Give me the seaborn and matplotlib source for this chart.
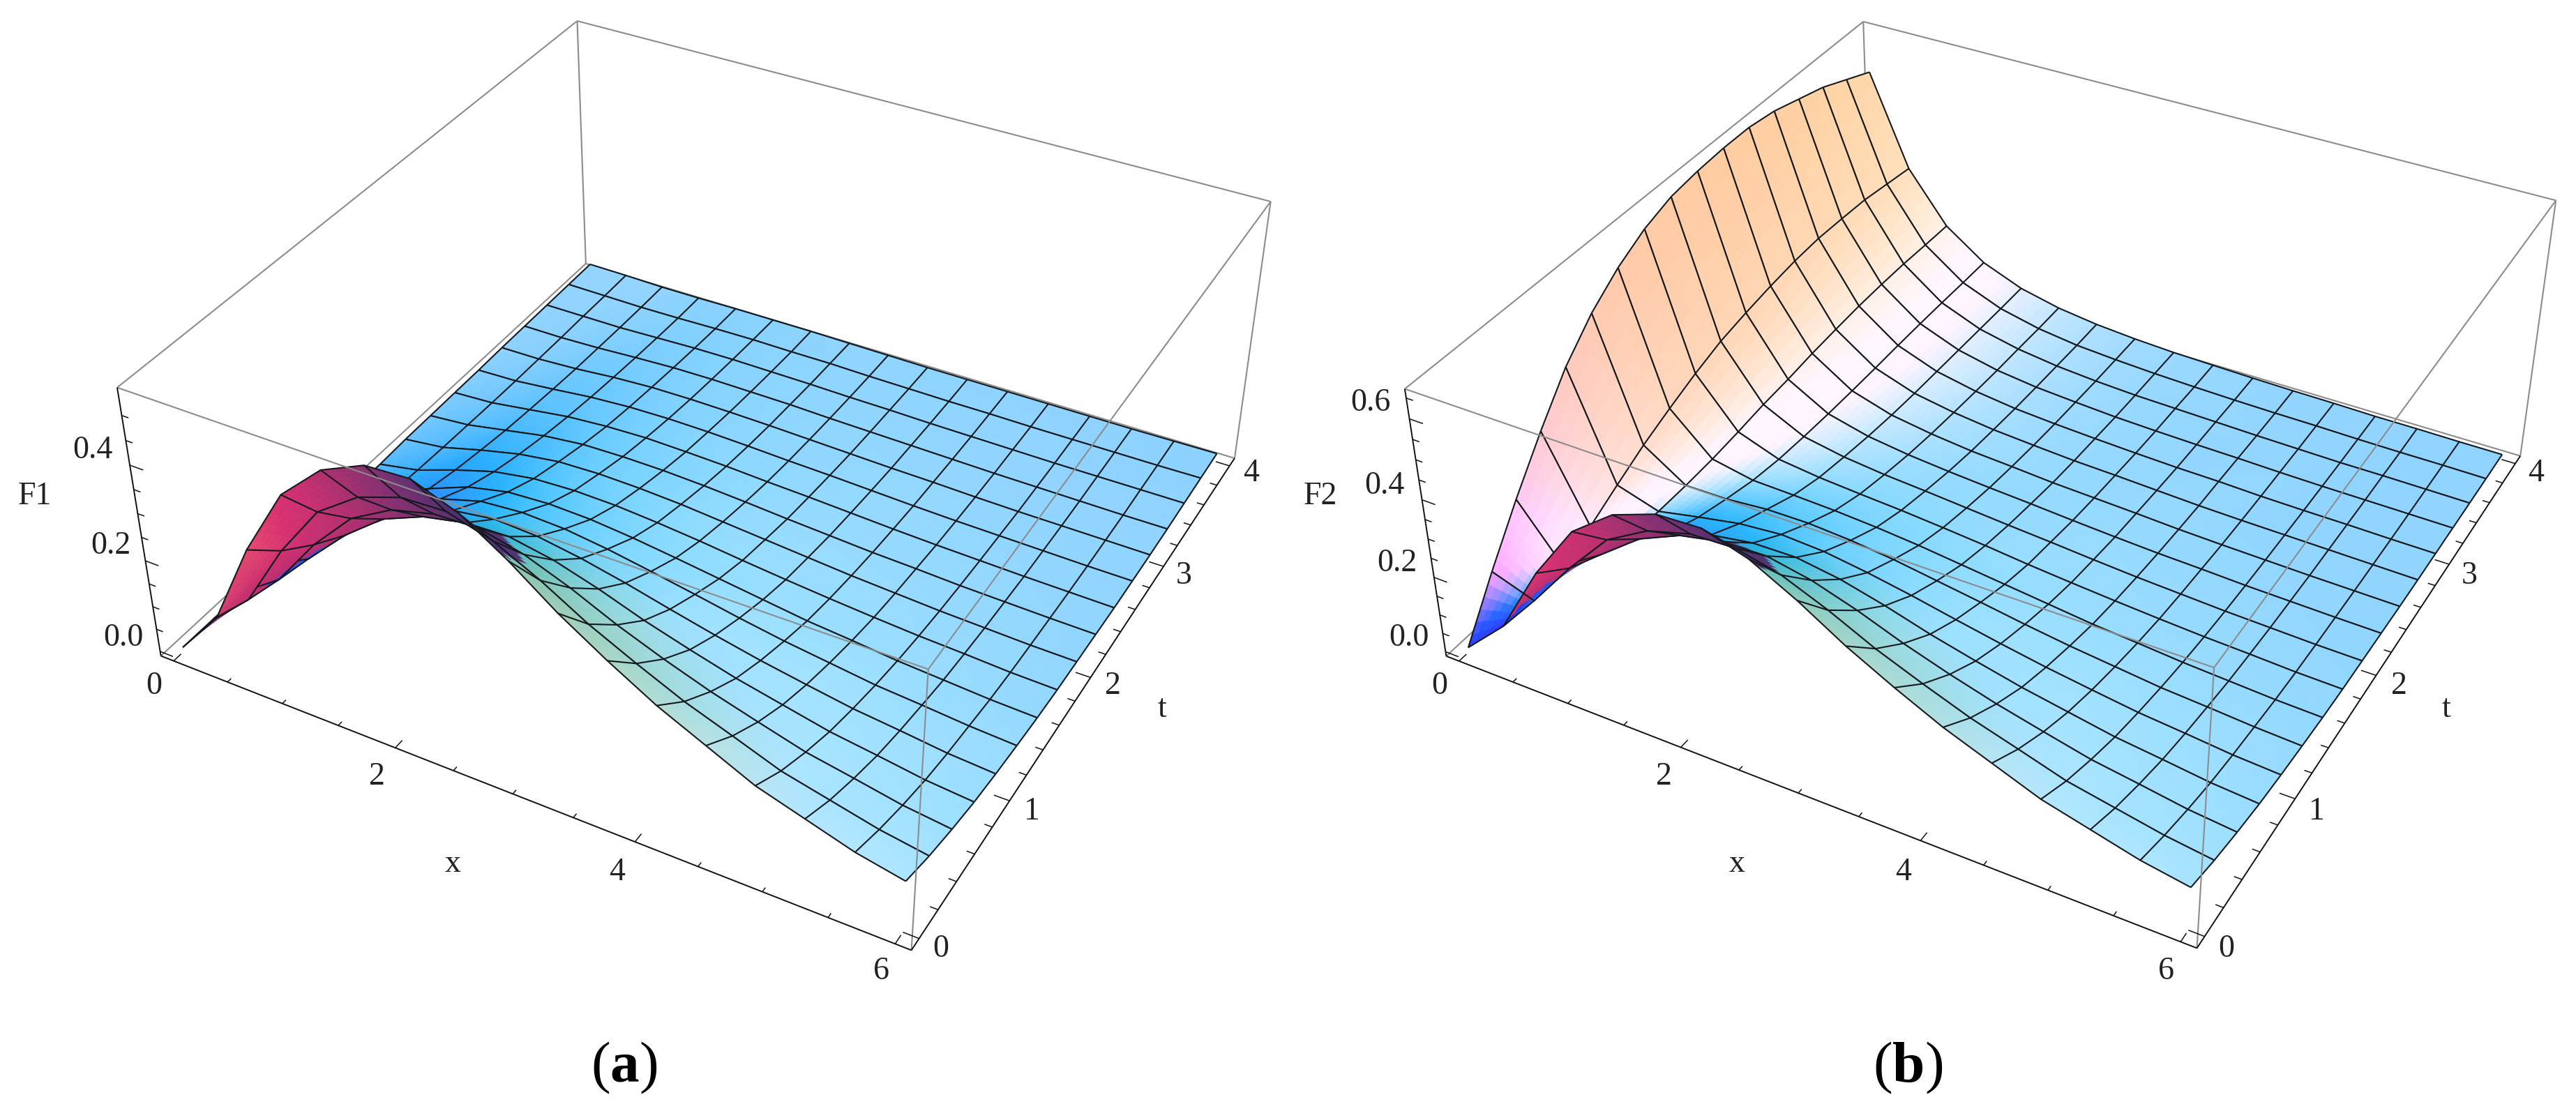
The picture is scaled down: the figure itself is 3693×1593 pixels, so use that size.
from mpl_toolkits.mplot3d.art3d import Line3DCollection

import matplotlib

matplotlib.use("Agg")

import matplotlib.pyplot as plt
import numpy as np
import seaborn as sns

WIDTH, HEIGHT = 3693, 1593

X_NODES = [0, .375, .75, 1.125, 1.5, 1.875, 2.25, 2.625, 3, 3.375, 3.75, 4.125, 4.5, 4.875, 5.25, 5.625, 6]
T_NODES = [0, .25, .5, .75, 1, 1.25, 1.5, 1.75, 2, 2.25, 2.5, 2.75, 3, 3.25, 3.5, 3.75, 4]

# one row per t node, one column per x node
F1_VALUES = [
    [0, .100, .280, .425, .505, .545, .550, .515, .455, .385, .325, .270, .225, .180, .150, .120, .100],
    [0, .078, .218, .332, .394, .425, .429, .402, .355, .300, .254, .211, .176, .140, .117, .094, .078],
    [0, .061, .171, .260, .310, .333, .336, .314, .278, .235, .198, .165, .137, .110, .092, .073, .061],
    [0, .047, .132, .200, .237, .256, .259, .242, .214, .181, .153, .127, .106, .085, .071, .056, .047],
    [0, .037, .104, .160, .192, .205, .200, .185, .165, .142, .120, .100, .083, .067, .056, .044, .037],
    [0, .029, .081, .128, .154, .161, .157, .145, .129, .112, .094, .078, .065, .052, .044, .035, .029],
    [0, .022, .062, .097, .117, .122, .119, .110, .098, .085, .072, .059, .050, .040, .033, .026, .022],
    [0, .017, .048, .075, .090, .094, .092, .085, .076, .065, .055, .046, .038, .031, .026, .020, .017],
    [.003, .014, .038, .059, .072, .075, .073, .068, .060, .052, .044, .036, .030, .024, .020, .016, .014],
    [.004, .012, .029, .046, .056, .058, .057, .053, .047, .040, .034, .028, .024, .019, .016, .013, .011],
    [.005, .010, .023, .036, .043, .046, .044, .041, .036, .032, .027, .022, .018, .015, .012, .010, .008],
    [.006, .009, .018, .028, .034, .036, .035, .032, .028, .025, .021, .017, .014, .012, .010, .008, .007],
    [.008, .009, .014, .022, .027, .028, .027, .025, .022, .019, .016, .014, .011, .009, .008, .007, .006],
    [.009, .009, .012, .017, .021, .022, .021, .020, .017, .015, .013, .011, .009, .008, .007, .006, .006],
    [.010, .010, .010, .013, .016, .017, .016, .015, .013, .012, .010, .009, .008, .007, .007, .007, .007],
    [.011, .010, .009, .010, .012, .013, .012, .012, .010, .009, .008, .008, .007, .007, .007, .007, .008],
    [.012, .011, .009, .009, .010, .010, .010, .009, .008, .007, .007, .007, .007, .007, .007, .008, .009],
]
F2_VALUES = [
    [0, .100, .280, .425, .505, .545, .550, .515, .455, .385, .325, .270, .225, .180, .150, .120, .100],
    [.130, .092, .219, .332, .394, .425, .429, .402, .355, .300, .254, .211, .176, .140, .117, .094, .078],
    [.250, .112, .181, .262, .310, .333, .336, .314, .278, .235, .198, .165, .137, .110, .092, .073, .061],
    [.360, .145, .159, .207, .239, .257, .259, .242, .214, .181, .153, .127, .106, .085, .071, .056, .047],
    [.460, .186, .153, .176, .197, .207, .201, .185, .165, .142, .120, .100, .083, .067, .056, .044, .037],
    [.535, .225, .153, .154, .164, .165, .158, .146, .129, .112, .094, .078, .065, .052, .044, .035, .029],
    [.590, .257, .156, .135, .132, .128, .121, .111, .098, .085, .072, .059, .050, .040, .033, .026, .022],
    [.630, .286, .163, .124, .111, .103, .096, .087, .077, .065, .055, .046, .038, .031, .026, .020, .017],
    [.655, .310, .172, .119, .099, .087, .079, .070, .061, .053, .044, .036, .030, .024, .020, .016, .014],
    [.665, .325, .177, .116, .089, .074, .064, .056, .049, .041, .034, .028, .024, .019, .016, .013, .011],
    [.670, .337, .185, .115, .082, .065, .053, .046, .038, .033, .028, .022, .018, .015, .012, .010, .008],
    [.670, .346, .190, .115, .078, .059, .046, .038, .031, .027, .022, .017, .014, .012, .010, .008, .006],
    [.660, .350, .194, .116, .076, .054, .040, .032, .026, .021, .017, .015, .011, .009, .008, .006, .005],
    [.640, .347, .195, .116, .074, .050, .036, .028, .021, .017, .014, .012, .009, .007, .006, .005, .004],
    [.620, .343, .194, .115, .072, .048, .033, .024, .018, .015, .012, .009, .007, .005, .005, .004, .003],
    [.590, .332, .190, .113, .070, .045, .030, .022, .016, .012, .009, .007, .006, .004, .003, .003, .002],
    [.560, .321, .187, .112, .069, .044, .029, .020, .014, .011, .008, .006, .005, .003, .003, .002, .002],
]

X_MAJOR = [0, 2, 4, 6]
X_MINOR = [.5, 1, 1.5, 2.5, 3, 3.5, 4.5, 5, 5.5]
T_MAJOR = [0, 1, 2, 3, 4]
T_MINOR = [.2, .4, .6, .8, 1.2, 1.4, 1.6, 1.8, 2.2, 2.4, 2.6, 2.8, 3.2, 3.4, 3.6, 3.8]
Z_MAJOR_A = [0, .2, .4]
Z_MINOR_A = [.05, .1, .15, .25, .3, .35, .45, .5]
Z_MAJOR_B = [0, .2, .4, .6]
Z_MINOR_B = [.05, .1, .15, .25, .3, .35, .45, .5, .55, .65]

PANEL_A = {
    "values": F1_VALUES,
    "lims": ((-0.12, 6.12), (-0.08, 4.08), (-0.01, 0.555)),
    "corners": {
        (0, 0, 0): (230, 941), (1, 0, 0): (1307, 1363), (1, 1, 0): (1769, 656), (0, 1, 0): (841, 378),
        (0, 0, 1): (169, 555), (1, 0, 1): (1330, 959), (1, 1, 1): (1823, 290), (0, 1, 1): (826, 30),
    },
    "z_ticks": (Z_MAJOR_A, Z_MINOR_A),
    "labels": [
        ("0", 221, 984), ("2", 540, 1114), ("4", 885, 1251), ("6", 1263, 1393), ("x", 649, 1239),
        ("0", 1349, 1361), ("1", 1479, 1164), ("2", 1595, 984), ("3", 1697, 826), ("4", 1794, 679),
        ("t", 1666, 1017), ("0.0", 177, 915), ("0.2", 159, 783), ("0.4", 133, 646), ("F1", 50, 712),
    ],
    "caption": ("a", 895, 1531),
}
PANEL_B = {
    "values": F2_VALUES,
    "lims": ((-0.12, 6.12), (-0.08, 4.08), (-0.012, 0.672)),
    "corners": {
        (0, 0, 0): (2073, 941), (1, 0, 0): (3148, 1361), (1, 1, 0): (3613, 651), (0, 1, 0): (2684, 378),
        (0, 0, 1): (2015, 557), (1, 0, 1): (3175, 956), (1, 1, 1): (3665, 290), (0, 1, 1): (2669, 30),
    },
    "z_ticks": (Z_MAJOR_B, Z_MINOR_B),
    "labels": [
        ("0", 2064, 984), ("2", 2385, 1114), ("4", 2729, 1251), ("6", 3105, 1393), ("x", 2490, 1239),
        ("0", 3192, 1361), ("1", 3321, 1164), ("2", 3439, 984), ("3", 3540, 826), ("4", 3636, 679),
        ("t", 3507, 1017), ("0.0", 2020, 915), ("0.2", 2003, 808), ("0.4", 1985, 697), ("0.6", 1965, 578),
        ("F2", 1893, 712),
    ],
    "caption": ("b", 2735, 1531),
}

# lighting of the original plot: three coloured lamps on a white surface
VIEW_POINT = np.array([1.3, -2.4, 2.0])
AMBIENT = np.array([0.16, 0.188, 0.44])
RED_GAIN = 1.3
BACK_RED_AMBIENT, BACK_RED_GAIN = 0.312, 0.8
LIGHTS = [
    (np.array([1.0, 0, 0]), np.array([1.5, -0.5, 2.0])),
    (np.array([0, 0.78, 0]), np.array([1.5, 1.5, 2.0])),
    (np.array([0, 0, 0.8]), np.array([-0.5, 1.5, 2.0])),
]


def fit_projection(corners, lims):
    rows = []
    for (i, j, k), (px, py) in corners.items():
        p = [lims[0][i], lims[1][j], lims[2][k], 1.0]
        rows.append([*p, 0, 0, 0, 0, *[-px * v for v in p]])
        rows.append([0, 0, 0, 0, *p, *[-py * v for v in p]])
    P = np.linalg.svd(np.array(rows))[2][-1].reshape(3, 4)
    P = P / (P[2] @ np.array([3.0, 2.0, 0.25, 1.0]))
    return np.vstack([P[0], P[1], [0, 0, 0, -1.0], P[2]])


def node_normals(values, lims):
    sx = lims[0][1] - lims[0][0]
    st = lims[1][1] - lims[1][0]
    sz = (lims[2][1] - lims[2][0]) / 0.4
    dz_t, dz_x = np.gradient(values / sz, np.array(T_NODES) / st, np.array(X_NODES) / sx)
    return np.dstack([-dz_x, -dz_t, np.ones_like(values)])


def shade(n):
    n = n / np.linalg.norm(n, axis=2, keepdims=True)
    depth = VIEW_POINT / np.linalg.norm(VIEW_POINT)
    back = (n @ depth) < 0
    n[back] *= -1
    right = np.cross([0, 0, 1.0], depth)
    right /= np.linalg.norm(right)
    up = np.cross(depth, right)
    image_n = np.dstack([n @ right, n @ up, n @ depth])
    dots = [np.clip(image_n @ (d / np.linalg.norm(d)), 0, None) for _, d in LIGHTS]
    red = np.where(back, BACK_RED_AMBIENT + BACK_RED_GAIN * dots[0], AMBIENT[0] + RED_GAIN * dots[0])
    green = AMBIENT[1] + LIGHTS[1][0][1] * dots[1]
    blue = AMBIENT[2] + LIGHTS[2][0][2] * dots[2]
    return np.clip(np.dstack([red, green, blue]), 0, 1)


def refine(a, n):
    ru = np.linspace(0, a.shape[0] - 1, (a.shape[0] - 1) * n + 1)
    cu = np.linspace(0, a.shape[1] - 1, (a.shape[1] - 1) * n + 1)
    out = np.array([np.interp(cu, np.arange(a.shape[1]), row) for row in a])
    return np.array([np.interp(ru, np.arange(a.shape[0]), col) for col in out.T]).T


def add_segments(ax, segments, color, lw, zorder):
    ax.add_collection3d(Line3DCollection(segments, colors=color, linewidths=lw, zorder=zorder))


def draw_box(ax, lims, z_ticks):
    (x0, x1), (t0, t1), (z0, z1) = lims
    grey = "#8c8c8c"
    back = [
        [(x0, t0, z1), (x0, t1, z1)], [(x0, t1, z1), (x1, t1, z1)], [(x0, t1, z0), (x0, t1, z1)],
        [(x1, t1, z0), (x1, t1, z1)], [(x0, t0, z0), (x0, t1, z0)], [(x0, t1, z0), (x1, t1, z0)],
    ]
    front = [
        [(x0, t0, z1), (x1, t0, z1)], [(x1, t0, z1), (x1, t1, z1)], [(x1, t0, z0), (x1, t0, z1)],
    ]
    add_segments(ax, back, grey, 1.5, 1)
    add_segments(ax, front, grey, 1.5, 500)

    ink = "#111111"
    axes_lines = [[(x0, t0, z0), (x1, t0, z0)], [(x1, t0, z0), (x1, t1, z0)], [(x0, t0, z0), (x0, t0, z1)]]
    add_segments(ax, axes_lines, ink, 1.4, 501)
    ticks = []
    for values, size in ((X_MAJOR, 0.06), (X_MINOR, 0.03)):
        ticks += [[(v, t0, z0), (v, t0 + size, z0)] for v in values]
    for values, size in ((T_MAJOR, 0.12), (T_MINOR, 0.06)):
        ticks += [[(x1, v, z0), (x1 - size, v, z0)] for v in values]
    for values, size in ((z_ticks[0], 0.12), (z_ticks[1], 0.06)):
        ticks += [[(x0, t0, v), (x0 + size, t0, v)] for v in values if v < z1]
    add_segments(ax, ticks, ink, 1.1, 501)


def draw_panel(fig, panel):
    lims = panel["lims"]
    ax = fig.add_axes([0, 0, 1, 1], projection="3d", computed_zorder=False)
    ax.set_axis_off()
    ax.patch.set_visible(False)
    M = fit_projection(panel["corners"], lims)
    ax.get_proj = lambda: M
    ax.apply_aspect = lambda position=None: None
    ax.viewLim.intervalx = (0, WIDTH)
    ax.viewLim.intervaly = (HEIGHT, 0)

    x, t = np.meshgrid(X_NODES, T_NODES)
    z = np.array(panel["values"], dtype=float)
    normals = node_normals(z, lims)
    order = 10
    # strips go from the far edge to the near one, so the hump hides what is behind it
    for j in range(len(T_NODES) - 2, -1, -1):
        rx, rt, rz = (refine(a[j:j + 2], 6) for a in (x, t, z))
        rn = np.dstack([refine(normals[j:j + 2, :, k], 6) for k in range(3)])
        ax.plot_surface(rx, rt, rz, facecolors=shade(rn), rstride=1, cstride=1, shade=False,
                        linewidth=0.4, zorder=order)
        ax.plot_wireframe(x[j:j + 2], t[j:j + 2], z[j:j + 2], rstride=1, cstride=1,
                          color="#14191d", linewidth=1.5, zorder=order + 1)
        order += 2
    draw_box(ax, lims, panel["z_ticks"])

    for text, px, py in panel["labels"]:
        fig.text(px / WIDTH, 1 - py / HEIGHT, text, ha="center", va="center", fontsize=33, color="#222222")
    letter, px, py = panel["caption"]
    fig.text(px / WIDTH, 1 - py / HEIGHT, rf"($\mathbf{{{letter}}}$)", ha="center", va="center",
             fontsize=60, color="black")


def main():
    sns.set_theme(style="white", rc={
        "font.family": ["Liberation Serif", "DejaVu Serif"],
        "mathtext.fontset": "custom",
        "mathtext.bf": "Liberation Serif:bold",
        "mathtext.rm": "Liberation Serif",
    })
    fig = plt.figure(figsize=(WIDTH / 100, HEIGHT / 100), dpi=100)
    draw_panel(fig, PANEL_A)
    draw_panel(fig, PANEL_B)
    fig.savefig("out.png", dpi=100, facecolor="white")
    plt.close(fig)


if __name__ == "__main__":
    main()
